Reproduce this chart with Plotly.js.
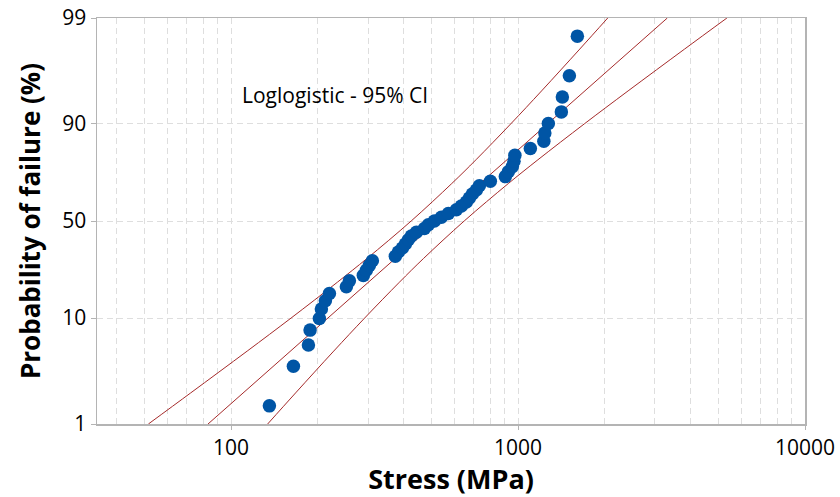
<!DOCTYPE html>
<html>
<head>
<meta charset="utf-8">
<script src="https://cdn.plot.ly/plotly-3.0.1.min.js"></script>
<style>html,body{margin:0;padding:0;background:#fff;}#chart{width:840px;height:497px;}</style>
</head>
<body>
<div id="chart"></div>
<script>
// Observed failure stresses (MPa) and plotted probabilities (%)
const stress = [136.0, 164.9, 186.0, 188.5, 203.1, 206.4, 213.1, 220.1, 252.2, 258.4,
  289.0, 296.1, 303.3, 310.7, 373.6, 382.8, 395.3, 404.9, 414.8, 424.9,
  442.3, 471.6, 487.0, 511.0, 540.5, 571.7, 609.6, 634.6, 660.5, 676.6,
  693.1, 715.7, 733.2, 800.8, 903.2, 925.2, 955.4, 968.0, 975.0, 1103.9,
  1230.0, 1240.0, 1275.1, 1415.6, 1427.0, 1509.6, 1609.6];
const probability = [1.5, 3.6, 5.7, 7.8, 9.9, 12.0, 14.1, 16.2, 18.4, 20.5,
  22.6, 24.7, 26.8, 28.9, 31.0, 33.1, 35.2, 37.3, 39.5, 41.6,
  43.7, 45.8, 47.9, 50.0, 52.1, 54.2, 56.3, 58.4, 60.6, 62.7,
  64.8, 66.9, 69.0, 71.1, 73.2, 75.3, 77.4, 79.5, 81.6, 83.8,
  85.9, 88.0, 90.1, 92.2, 94.3, 96.4, 98.5];

// Fitted loglogistic line
const fitProb = [1, 99];
const fitStress = [83.1, 3313];

// 95% confidence bounds
const ciProb  = [1, 2, 5, 10, 20, 30, 50, 70, 80, 90, 95, 98, 99];
const ciLower = [51.5, 72.3, 113.8, 161.8, 234.6, 297.7, 424.2, 587.4, 713.5, 942.7, 1207.8, 1641, 2054];
const ciUpper = [134.1, 167.8, 227.9, 292.0, 385.9, 468.6, 649.1, 924.7, 1173, 1701, 2418, 3805, 5344];

// Tick labels
const yTickLabels = ['1', '10', '50', '90', '99'];
const xTickLabels = ['100', '1000', '10000'];
const xTickValues = [100, 1000, 10000];
const xMinorValues = [40, 50, 60, 70, 80, 90, 200, 300, 400, 500, 600, 700, 800, 900,
  2000, 3000, 4000, 5000, 6000, 7000, 8000, 9000];

const logit = p => Math.log(p / (100 - p));
const lineColor = '#a52a2a';
const font = '"Open Sans", "Noto Sans", sans-serif';

const traces = [
  {x: ciLower, y: ciProb.map(logit), mode: 'lines', line: {color: lineColor, width: 1, shape: 'spline'}, hoverinfo: 'skip'},
  {x: ciUpper, y: ciProb.map(logit), mode: 'lines', line: {color: lineColor, width: 1, shape: 'spline'}, hoverinfo: 'skip'},
  {x: fitStress, y: fitProb.map(logit), mode: 'lines', line: {color: lineColor, width: 1}, hoverinfo: 'skip'},
  {x: stress, y: probability.map(logit), mode: 'markers', marker: {color: '#0055a5', size: 13.5}}
];

const gridColor = '#dedede';
const layout = {
  width: 840, height: 497,
  margin: {l: 97, r: 35, t: 18, b: 73},
  paper_bgcolor: '#fff', plot_bgcolor: '#fff',
  showlegend: false,
  font: {family: font, color: '#000'},
  xaxis: {
    type: 'log',
    range: [Math.log10(34.1), 4],
    tickmode: 'array', tickvals: xTickValues, ticktext: xTickLabels,
    ticks: 'outside', ticklen: 4, tickcolor: '#b4b4b4',
    tickfont: {size: 21, family: font},
    showgrid: true, gridcolor: gridColor, griddash: '6px,4px', gridwidth: 1,
    minor: {tickmode: 'array', tickvals: xMinorValues, showgrid: true, gridcolor: gridColor, griddash: '6px,4px', gridwidth: 1, ticks: ''},
    showline: true, linecolor: '#b4b4b4', linewidth: 1.5, mirror: true,
    zeroline: false,
    title: {text: 'Stress (MPa)', font: {size: 27, family: font, weight: 'bold'}, standoff: 4}
  },
  yaxis: {
    range: [logit(1), logit(99)],
    tickmode: 'array', tickvals: yTickLabels.map(Number).map(logit), ticktext: yTickLabels,
    ticks: 'outside', ticklen: 5, tickcolor: '#b4b4b4',
    tickfont: {size: 21, family: font},
    showgrid: true, gridcolor: gridColor, griddash: '6px,4px', gridwidth: 1,
    showline: true, linecolor: '#b4b4b4', linewidth: 1.5, mirror: true,
    zeroline: false,
    title: {text: 'Probability of failure (%)', font: {size: 26, family: font, weight: 'bold'}, standoff: 14}
  },
  annotations: [{
    text: 'Loglogistic - 95% CI', xref: 'paper', yref: 'paper',
    x: (240 - 97) / 708, y: 1 - (95 - 18) / 406, xanchor: 'left', yanchor: 'middle',
    showarrow: false, font: {size: 21, family: font, color: '#000'}
  }]
};

Plotly.newPlot('chart', traces, layout, {displayModeBar: false, staticPlot: true});
</script>
</body>
</html>
